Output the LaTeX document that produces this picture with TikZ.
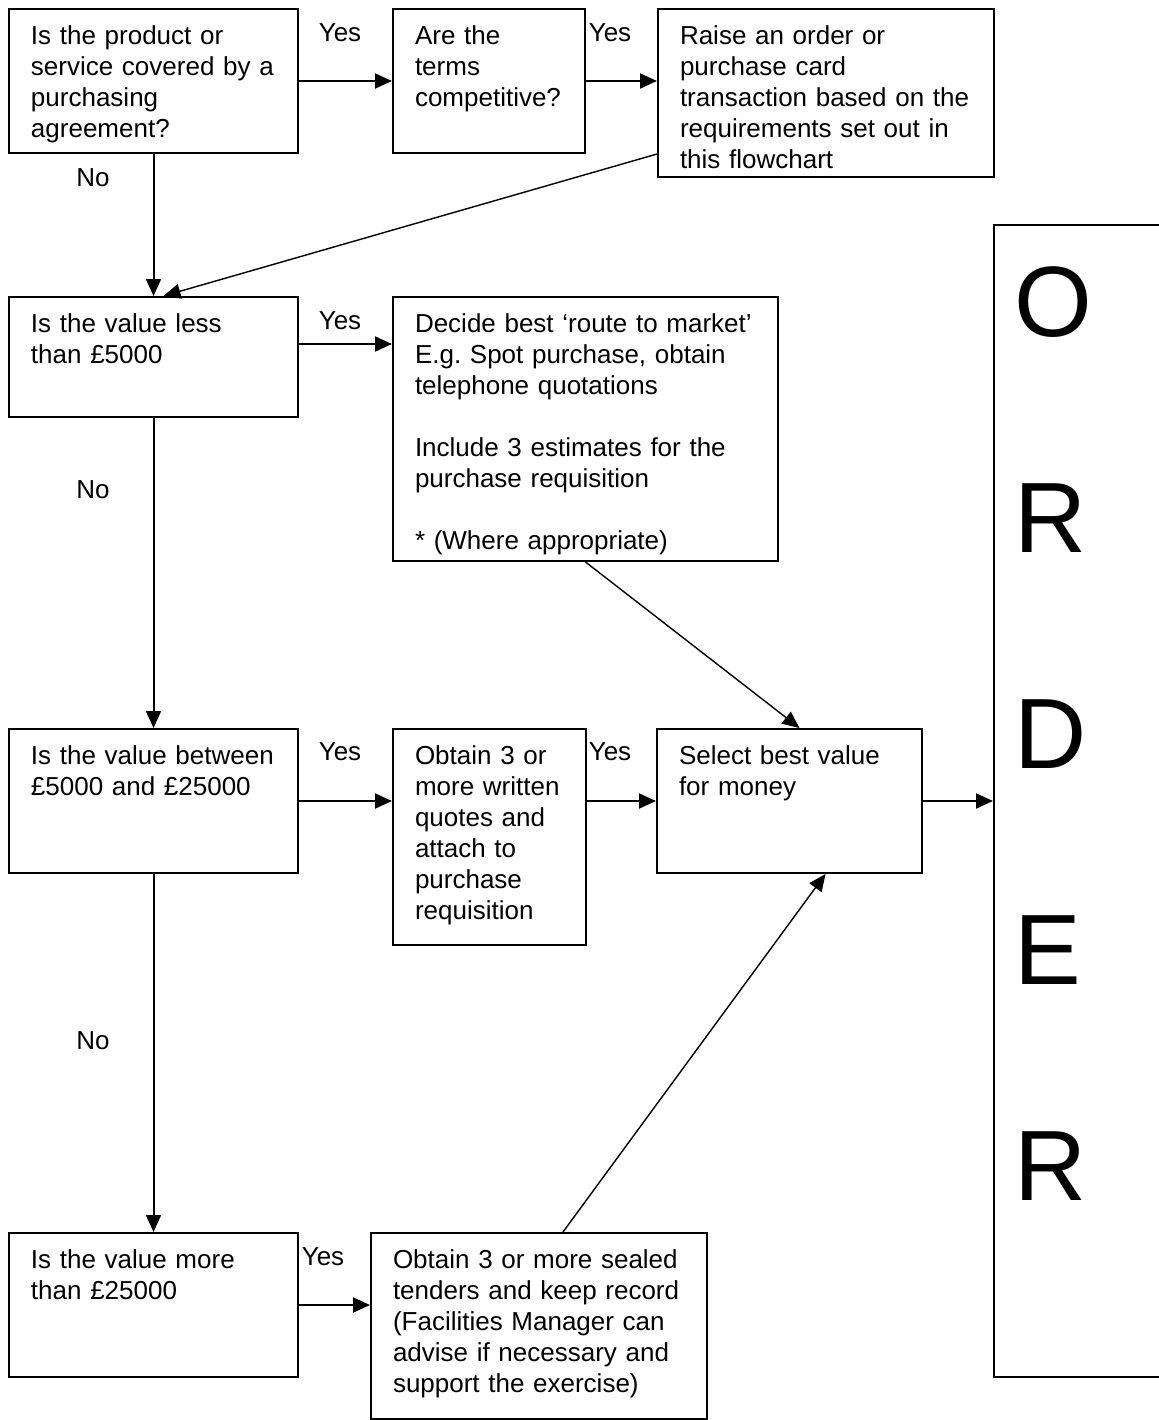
\documentclass[tikz,border=0pt]{standalone}
\usepackage{fontspec}
\setmainfont{Liberation Sans}
\usetikzlibrary{arrows.meta,calc}
\hyphenpenalty=10000
\frenchspacing

\tikzset{
    >={Triangle[length=8.5pt,width=7.5pt]},
    stepbox/.style 2 args={draw, line width=1pt, anchor=north west, align=left,
        font=\fontsize{13}{15.5}\selectfont, inner xsep=11pt, inner ysep=0pt,
        text width=#1, text height=17.5pt, text depth=#2},
    orderbox/.style={draw, line width=1pt, anchor=north west, align=left,
        font=\fontsize{50}{108}\selectfont, inner xsep=10pt, inner ysep=0pt,
        text width=80pt, text height=55.5pt, text depth=520.5pt},
    answer/.style={font=\fontsize{13}{15.5}\selectfont, inner sep=0pt},
    flow/.style={->, line width=1pt},
    thinflow/.style={->, line width=0.7pt}
}

\begin{document}
\begin{tikzpicture}[x=0.5pt, y=-0.5pt]
    \useasboundingbox (0,0) rectangle (1158,1420);

    \node[stepbox={122.5pt}{54.5pt}] (agree) at (8,8) {Is the product or\\service covered by a\\purchasing\\agreement?};
    \node[stepbox={74pt}{54.5pt}] (terms) at (392,8) {Are the\\terms\\competitive?};
    \node[stepbox={146pt}{66.5pt}] (raise) at (657,8) {Raise an order or\\purchase card\\transaction based on the\\requirements set out in\\this flowchart};

    \node[stepbox={122.5pt}{42.5pt}] (less) at (8,296) {Is the value less\\than £5000};
    \node[stepbox={170.5pt}{114.5pt}] (decide) at (392,296) {Decide best ‘route to market’\\E.g. Spot purchase, obtain\\telephone quotations\\[15.5pt]Include 3 estimates for the\\purchase requisition\\[15.5pt]* (Where appropriate)};

    \node[stepbox={122.5pt}{54.5pt}] (between) at (8,728) {Is the value between\\£5000 and £25000};
    \node[stepbox={74.5pt}{90.5pt}] (written) at (392,728) {Obtain 3 or\\more written\\quotes and\\attach to\\purchase\\requisition};
    \node[stepbox={110.5pt}{54.5pt}] (select) at (656,728) {Select best value\\for money};

    \node[stepbox={122.5pt}{54.5pt}] (more) at (8,1232) {Is the value more\\than £25000};
    \node[stepbox={146pt}{75.5pt}] (sealed) at (370,1232) {Obtain 3 or more sealed\\tenders and keep record\\(Facilities Manager can\\advise if necessary and\\support the exercise)};

    \node[orderbox] (order) at (993,224) {O\\R\\D\\E\\R};

    % answers on the arrows
    \node[answer] (yes1) at (340,33) {Yes};
    \node[answer] (yes2) at (610,33) {Yes};
    \node[answer] (yes3) at (340,321) {Yes};
    \node[answer] (yes4) at (340,752) {Yes};
    \node[answer] (yes5) at (610,752) {Yes};
    \node[answer] (yes6) at (323,1257) {Yes};
    \node[answer] (no1) at (93,178) {No};
    \node[answer] (no2) at (93,490) {No};
    \node[answer] (no3) at (93,1041) {No};

    \draw[flow] (agree) -- (terms);
    \draw[flow] (terms.east) -- (terms.east -| raise.west);
    \draw[thinflow] (raise.west |- terms.south) -- ([xshift=5pt]less.north);
    \draw[flow] (agree) -- (less);
    \draw[flow] ([yshift=6.5pt]less.east) -- ([yshift=6.5pt]less.east -| decide.west);
    \draw[flow] (less) -- (between);
    \draw[thinflow] (decide.south) -- ([xshift=5pt]select.north);
    \draw[flow] (between.east) -- (between.east -| written.west);
    \draw[flow] (written.east |- select.west) -- (select.west);
    \draw[flow] (select.east) -- (select.east -| order.west);
    \draw[flow] (between) -- (more);
    \draw[flow] (more.east) -- (more.east -| sealed.west);
    \draw[thinflow] ([xshift=12pt]sealed.north) -- ([xshift=18pt]select.south);
\end{tikzpicture}
\end{document}
